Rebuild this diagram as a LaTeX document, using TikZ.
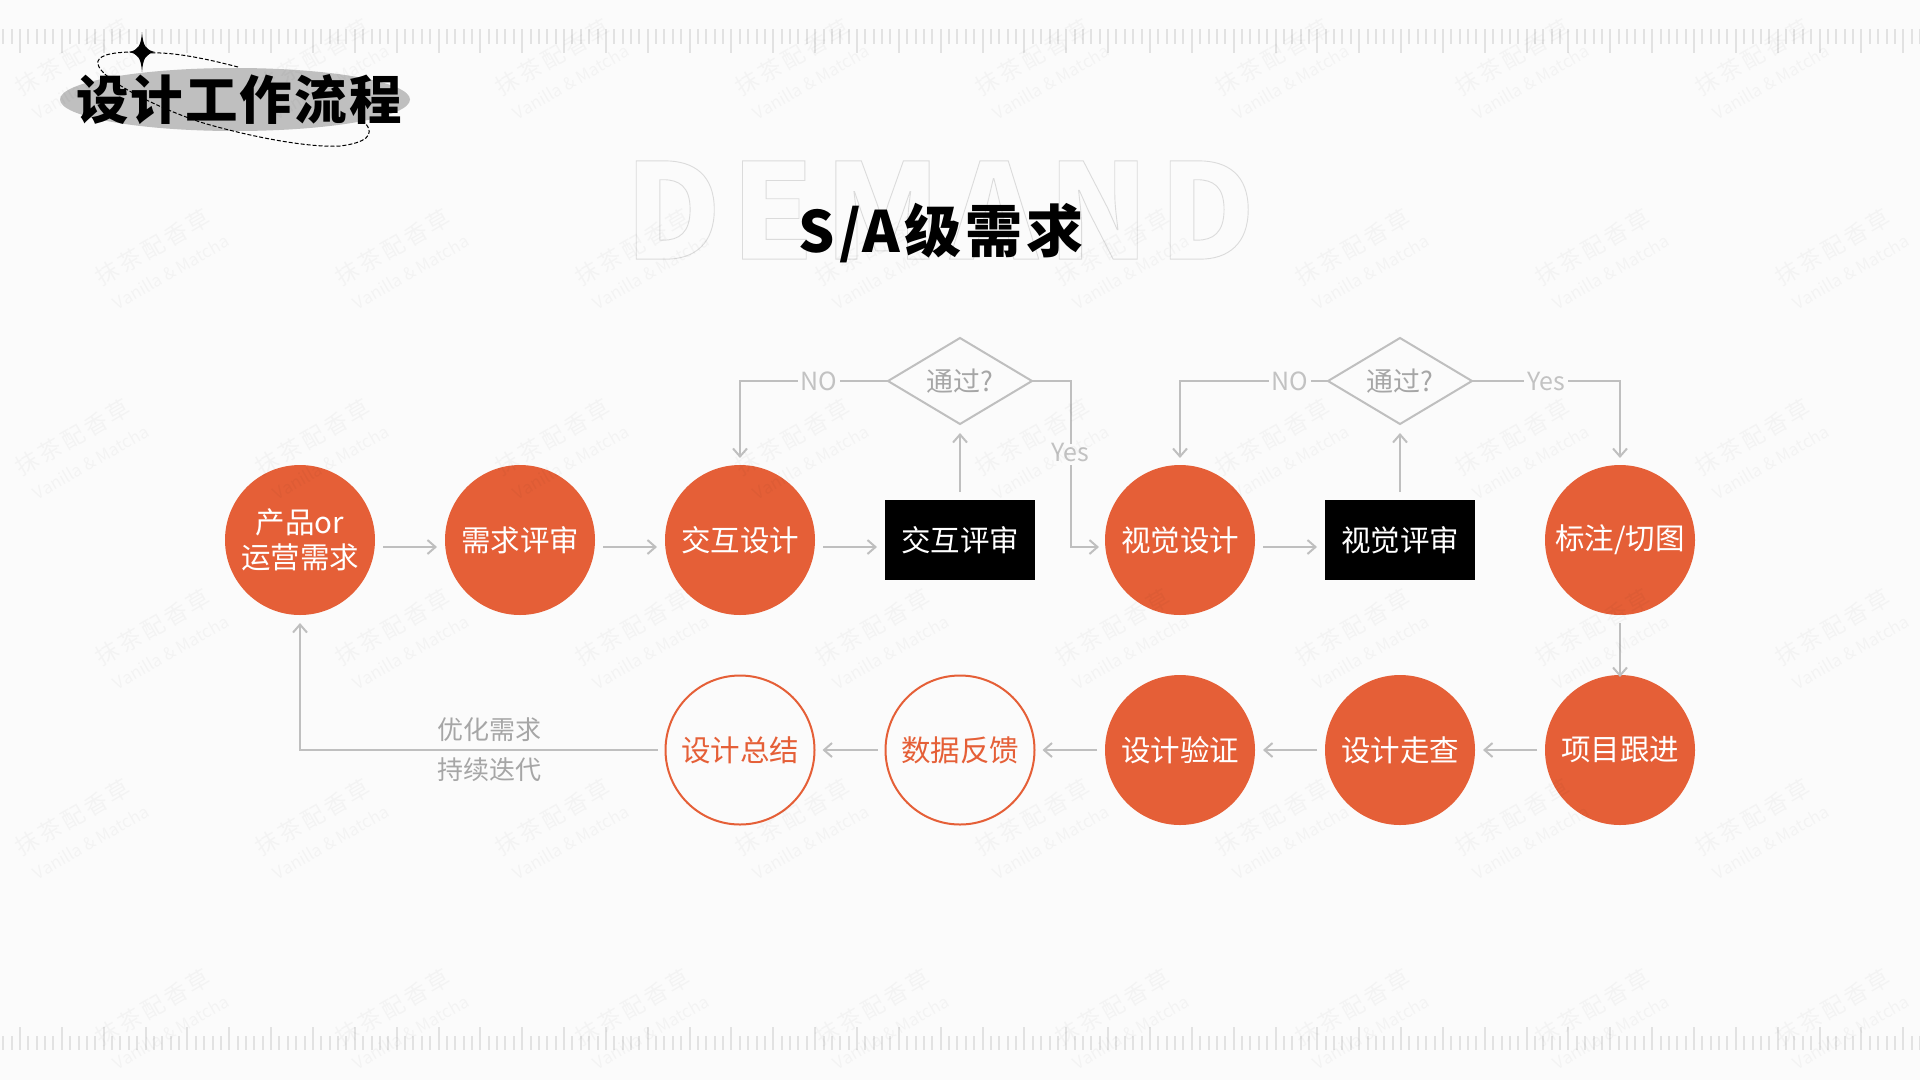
\documentclass[tikz,border=0pt]{standalone}
\usepackage{fontspec}
\setmainfont{Noto Sans CJK SC}
\newfontfamily\ghostfont[LetterSpace=7.7]{Noto Sans CJK SC Black}
\newfontfamily\titlefont[LetterSpace=4]{Noto Sans CJK SC Black}
\newfontfamily\headfont[LetterSpace=7]{Noto Sans CJK SC Black}
\newfontfamily\wmfont[LetterSpace=14]{Noto Sans CJK SC}
\usetikzlibrary{arrows.meta,shapes.geometric}
\definecolor{bgc}{HTML}{FBFBFB}
\definecolor{org}{HTML}{E55F37}
\definecolor{lin}{HTML}{BFBFBF}
\definecolor{tck}{HTML}{E2E2E2}
\definecolor{lbl}{HTML}{C2C2C2}
\definecolor{lbd}{HTML}{A6A6A6}
\newcommand{\fs}[1]{\fontsize{#1}{#1}\selectfont}
\tikzset{
  every node/.style={outer sep=0pt,inner sep=0pt},
  fillc/.style={circle,minimum size=150pt,fill=org,text=white,font=\fs{29.5},align=center},
  openc/.style={circle,minimum size=149pt,draw=org,line width=2pt,fill=bgc,text=org,font=\fs{29.5},align=center},
  blackr/.style={rectangle,minimum width=150pt,minimum height=80pt,fill=black,text=white,font=\fs{29.5}},
  dec/.style={diamond,minimum width=144pt,minimum height=86pt,aspect=1.67,draw=lin,line width=2pt,text=lbd,font=\fs{27}},
  arr/.style={draw=lin,line width=2pt,-{Straight Barb[length=8pt,width=14pt,line width=2pt]}},
  lab/.style={fill=bgc,text=lbl,font=\fs{25},inner xsep=3pt,text height=18pt,text depth=3pt},
  note/.style={text=lbd,font=\fs{26}},
  tick/.style={draw=tck,line width=2pt},
}
\begin{document}
\begin{tikzpicture}[x=1pt,y=-1pt]
\path[use as bounding box,fill=bgc] (0,0) rectangle (1920,1080);
% rulers
\foreach \k in {-1,...,45}{
  \pgfmathsetmacro{\xx}{20+41.85*\k}
  \ifnum\k>-1
  \draw[tick] (\xx,29) -- (\xx,53);
  \draw[tick] (\xx,1027) -- (\xx,1050);
  \fi
  \foreach \j in {1,2,3,4}{
    \pgfmathsetmacro{\xs}{\xx+8.37*\j}
    \draw[tick] (\xs,29) -- (\xs,44);
    \draw[tick] (\xs,1036) -- (\xs,1050);
  }
}
% badge
\node[ellipse,fill=lin,minimum width=350pt,minimum height=63pt] (badge) at (235,99.5) {};
\draw[black,line width=1pt,dash pattern=on 4pt off 2pt]
  (238,67) .. controls (200,57) and (170,52) .. (150,53)
  (134,52) .. controls (110,52) and (96,56) .. (98,64)
  .. controls (100,78) and (150,105) .. (200,122)
  .. controls (250,137) and (310,148) .. (340,146)
  .. controls (365,143) and (376,135) .. (365,123);
\fill[black] (142,32) .. controls (143,46) and (146,50) .. (155,52)
  .. controls (146,54) and (143,58) .. (142,72)
  .. controls (141,58) and (138,54) .. (129,52)
  .. controls (138,50) and (141,46) .. (142,32) -- cycle;
\node[font={\fs{52.5}\titlefont},text=black] (title) at (239,100) {设计工作流程};
% heading
\node[font={\fs{132}\ghostfont}] (ghost) at (940,210) {\special{pdf:code q 1 Tr 0.9 w 0.86 0.86 0.86 RG}DEMAND\special{pdf:code Q}};
\node[font={\fs{57}\headfont},text=black] (head) at (941,233) {S/A级需求};
% nodes
\node[fillc] (a) at (300,540) {产品or\\[6pt]运营需求};
\node[fillc] (b) at (520,540) {需求评审};
\node[fillc] (c) at (740,540) {交互设计};
\node[blackr] (d) at (960,540) {交互评审};
\node[fillc] (e) at (1180,540) {视觉设计};
\node[blackr] (f) at (1400,540) {视觉评审};
\node[fillc] (g) at (1620,540) {标注/切图};
\node[fillc] (h) at (1620,750) {项目跟进};
\node[fillc] (i) at (1400,750) {设计走查};
\node[fillc] (j) at (1180,750) {设计验证};
\node[openc] (k) at (960,750) {数据反馈};
\node[openc] (l) at (740,750) {设计总结};
\node[dec] (p) at (960,381) {通过?};
\node[dec] (q) at (1400,381) {通过?};
% connectors
\foreach \s/\t in {a/b,b/c,c/d,e/f}
  \draw[arr] ([xshift=8pt,yshift=-7pt]\s.east) -- ([xshift=-8pt,yshift=-7pt]\t.west);
\draw[arr] ([yshift=8pt]d.north) -- ([yshift=-9pt]p.south);
\draw[arr] ([yshift=8pt]f.north) -- ([yshift=-9pt]q.south);
\draw[arr] (p.west) -| ([yshift=7pt]c.north);
\draw[arr] (q.west) -| ([yshift=7pt]e.north);
\draw[arr] (p.east) -- ++(39,0) |- ([xshift=-6pt,yshift=-7pt]e.west);
\draw[arr] (q.east) -| ([yshift=7pt]g.north);
\draw[arr] ([yshift=-8pt]g.south) -- ([yshift=-2pt]h.north);
\foreach \s/\t in {h/i,i/j,j/k,k/l}
  \draw[arr] ([xshift=-8pt]\s.west) -- ([xshift=8pt]\t.east);
\draw[arr] ([xshift=-8pt]l.west) -| ([yshift=-8pt]a.south);
% labels
\node[lab] (n1) at (819,383) {NO};
\node[lab] (y1) at (1070,454) {Yes};
\node[lab] (n2) at (1290,383) {NO};
\node[lab] (y2) at (1546,383) {Yes};
\node[note] (m1) at (489,730) {优化需求};
\node[note] (m2) at (489,770) {持续迭代};
% watermark
\begin{scope}[opacity=.03]
\foreach \r in {0,...,5}{
  \pgfmathsetmacro{\yy}{57+190*\r}
  \pgfmathsetmacro{\xo}{ifthenelse(mod(\r,2)==0,73,153)}
  \foreach \c in {0,...,8}{
    \pgfmathsetmacro{\xx}{\xo+240*\c}
    \node[rotate=30,font={\fs{23}\wmfont}] at (\xx,\yy) {抹茶配香草};
    \node[rotate=30,font=\fs{17}] at (\xx+18,\yy+25) {Vanilla \& Matcha};
  }
}
\end{scope}
\end{tikzpicture}
\end{document}
